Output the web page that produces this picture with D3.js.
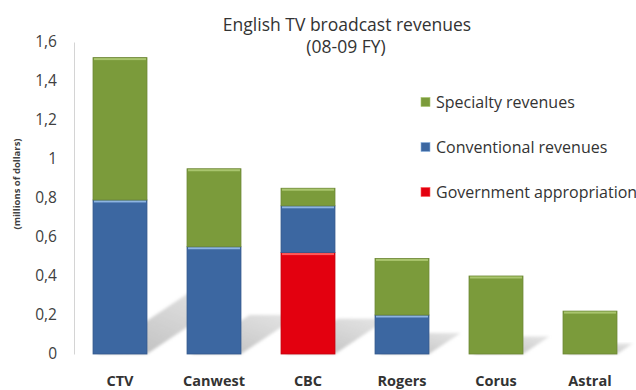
<!DOCTYPE html>
<html>
<head>
<meta charset="utf-8">
<script src="https://cdn.jsdelivr.net/npm/d3@7"></script>
<style>
  body { margin: 0; background: #fff; }
  svg { display: block; font-family: "Open Sans", Lato, sans-serif; }
</style>
</head>
<body>
<div id="chart"></div>
<script>
// --- data ---
const broadcasters = ["CTV", "Canwest", "CBC", "Rogers", "Corus", "Astral"];
const government = [0, 0, 0.52, 0, 0, 0];
const conventional = [0.79, 0.55, 0.24, 0.20, 0, 0];
const specialty = [0.73, 0.40, 0.09, 0.29, 0.40, 0.22];
const yTicks = [0, 0.2, 0.4, 0.6, 0.8, 1, 1.2, 1.4, 1.6];

const seriesKeys = ["government", "conventional", "specialty"];
const seriesNames = {
    specialty: "Specialty revenues",
    conventional: "Conventional revenues",
    government: "Government appropriation"
};
const colors = {
    government: { fill: "#e3000f", light: "#ff5a5a" },
    conventional: { fill: "#3c67a1", light: "#8db4e2" },
    specialty: { fill: "#7b9b3b", light: "#a9c56e" }
};

const rows = broadcasters.map((name, i) => ({
    name,
    government: government[i],
    conventional: conventional[i],
    specialty: specialty[i]
}));

// --- layout ---
const width = 636, height = 390;
const svg = d3.select("#chart").append("svg")
    .attr("width", width)
    .attr("height", height);

const x = d3.scaleBand()
    .domain(broadcasters)
    .range([73, 637])
    .paddingInner(0.426)
    .paddingOuter(0.213);

const y = d3.scaleLinear()
    .domain([0, 1.6])
    .range([354, 42]);

const defs = svg.append("defs");
const grad = defs.append("linearGradient")
    .attr("id", "shadowGrad")
    .attr("x1", 0).attr("y1", 1).attr("x2", 1).attr("y2", 0);
grad.append("stop").attr("offset", "0%").attr("stop-color", "#a8a8a8").attr("stop-opacity", 0.8);
grad.append("stop").attr("offset", "100%").attr("stop-color", "#c4c4c4").attr("stop-opacity", 0.45);
defs.append("filter").attr("id", "soft")
    .append("feGaussianBlur").attr("stdDeviation", 1.6);

// title
svg.append("text")
    .attr("x", 347).attr("y", 31)
    .attr("text-anchor", "middle")
    .attr("font-size", 17.5)
    .attr("fill", "#333")
    .text("English TV broadcast revenues");
svg.append("text")
    .attr("x", 346).attr("y", 53)
    .attr("text-anchor", "middle")
    .attr("font-size", 17.5)
    .attr("fill", "#333")
    .text("(08-09 FY)");

// y axis
const yAxis = svg.append("g")
    .attr("transform", "translate(74,0)")
    .call(d3.axisLeft(y).tickValues(yTicks).tickSize(0).tickPadding(17)
        .tickFormat(d => d3.format("")(d).replace(".", ",")));
yAxis.select(".domain").attr("stroke", "#d4d4d4");
yAxis.selectAll("text")
    .attr("font-size", 15.5)
    .attr("font-family", "'Open Sans', Lato, sans-serif")
    .attr("fill", "#404040");

svg.append("text")
    .attr("transform", "translate(20,184) rotate(-90)")
    .attr("text-anchor", "middle")
    .attr("font-size", 9.5)
    .attr("font-weight", "bold")
    .attr("fill", "#404040")
    .text("(millions of dollars)");

// shadows
const totals = rows.map(r => r.government + r.conventional + r.specialty);
svg.append("g").selectAll("polygon")
    .data(rows)
    .join("polygon")
    .attr("filter", "url(#soft)")
    .attr("fill", "url(#shadowGrad)")
    .attr("points", (d, i) => {
        const x0 = x(d.name) + 4, x1 = x(d.name) + x.bandwidth();
        const h = y(0) - y(totals[i]);
        const dy = 0.2 * h + 2;
        const dx = dy * 1.5;
        const b = y(0);
        return [[x0, b], [x1, b], [x1 + dx, b - dy], [x0 + dx, b - dy]].join(" ");
    });

// bars
const stacked = d3.stack().keys(seriesKeys)(rows);
const layers = svg.append("g").selectAll("g")
    .data(stacked)
    .join("g");

layers.selectAll("rect.seg")
    .data(s => s.map(d => ({ key: s.key, d })).filter(p => p.d[1] - p.d[0] > 0))
    .join("rect")
    .attr("class", "seg")
    .attr("x", p => x(p.d.data.name))
    .attr("y", p => y(p.d[1]))
    .attr("width", x.bandwidth())
    .attr("height", p => y(p.d[0]) - y(p.d[1]))
    .attr("fill", p => colors[p.key].fill)
    .attr("stroke", p => d3.color(colors[p.key].fill).darker(0.4))
    .attr("stroke-width", 0.8);

layers.selectAll("rect.hi")
    .data(s => s.map(d => ({ key: s.key, d })).filter(p => p.d[1] - p.d[0] > 0))
    .join("rect")
    .attr("class", "hi")
    .attr("x", p => x(p.d.data.name) + 1)
    .attr("y", p => y(p.d[1]) + 0.5)
    .attr("width", x.bandwidth() - 2)
    .attr("height", 2)
    .attr("fill", p => colors[p.key].light);

// x labels
svg.append("g").selectAll("text")
    .data(broadcasters)
    .join("text")
    .attr("x", d => x(d) + x.bandwidth() / 2)
    .attr("y", 386)
    .attr("text-anchor", "middle")
    .attr("font-size", 14.5)
    .attr("font-weight", "bold")
    .attr("fill", "#333")
    .text(d => d);

// legend
const legendOrder = ["specialty", "conventional", "government"];
const legend = svg.append("g").selectAll("g")
    .data(legendOrder)
    .join("g")
    .attr("transform", (d, i) => `translate(421,${102 + i * 45})`);
legend.append("rect")
    .attr("x", 0).attr("y", -4.5)
    .attr("width", 9).attr("height", 9)
    .attr("fill", d => colors[d].fill)
    .attr("stroke", d => colors[d].light)
    .attr("stroke-width", 0.6);
legend.append("text")
    .attr("x", 15).attr("y", 0)
    .attr("dy", "0.35em")
    .attr("font-size", 16)
    .attr("fill", "#333")
    .text(d => seriesNames[d]);
</script>
</body>
</html>
